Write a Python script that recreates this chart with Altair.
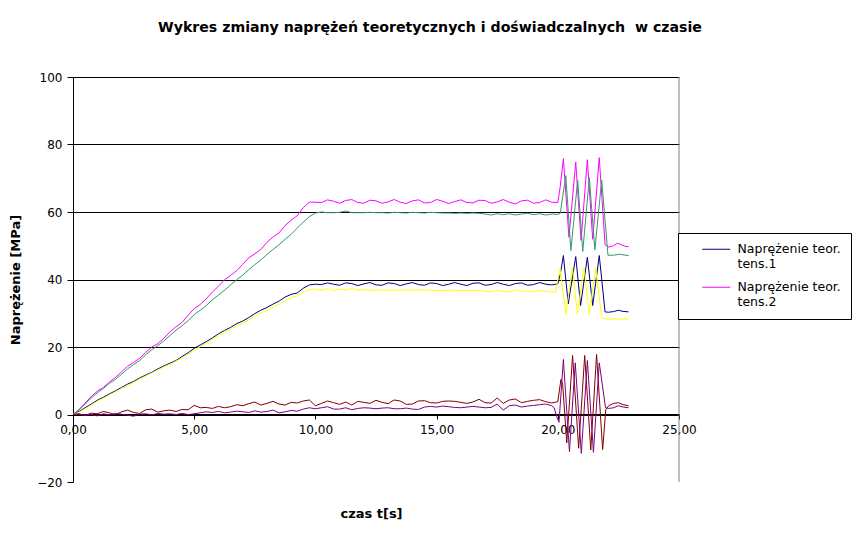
import altair as alt
import pandas as pd

# ---------------- data ----------------
T_BASE = [round(0.25 * i, 2) for i in range(80)]  # 0.00 ... 19.75 s

S_T1 = "Naprężenie teor. tens.1"   # navy
S_T2 = "Naprężenie teor. tens.2"   # magenta
S_D1 = "Naprężenie dośw. tens.1"   # yellow
S_D2 = "Naprężenie dośw. tens.2"   # green
S_D3 = "Naprężenie dośw. tens.3"   # dark red
S_D4 = "Naprężenie dośw. tens.4"   # purple

MAGENTA_BASE = [
    0, 1.5, 3.4, 5.3, 6.9, 8.0, 9.6, 11.0,
    12.6, 14.3, 15.4, 16.7, 18.4, 20.0, 21.0, 22.6,
    24.5, 26.0, 27.3, 29.4, 31.4, 32.6, 34.3, 36.3,
    38.0, 39.9, 41.2, 42.6, 44.5, 46.4, 47.6, 48.9,
    51.0, 52.6, 53.8, 56.0, 57.6, 58.9, 61.3, 62.9,
    62.9, 62.8, 63.6, 63.2, 62.6, 63.4, 63.7, 62.8,
    62.6, 63.5, 63.3, 62.6, 63.0, 63.7, 62.9, 62.5,
    63.3, 63.6, 62.7, 62.8, 63.7, 63.2, 62.5, 63.1,
    63.6, 62.8, 62.7, 63.5, 63.4, 62.6, 63.0, 63.7,
    62.9, 62.4, 63.3, 63.5, 62.6, 62.8, 63.6, 62.9,
]
MAGENTA_OSC_T = [20.0, 20.1, 20.23, 20.46, 20.74, 20.96, 21.22, 21.44, 21.71, 21.95,
                 22.1, 22.3, 22.45, 22.6, 22.75, 22.92]
MAGENTA_OSC_V = [62.8, 67.5, 75.8, 52.5, 74.8, 51.6, 75.5, 51.9, 76.1, 50.3,
                 49.6, 50.0, 50.7, 50.4, 49.9, 49.7]

GREEN_BASE = [
    0, 1.3, 3.1, 4.9, 6.4, 7.7, 9.2, 10.4,
    11.9, 13.5, 14.8, 16.0, 17.7, 19.2, 20.4, 21.8,
    23.4, 25.0, 26.3, 27.8, 29.6, 30.9, 32.3, 34.0,
    35.4, 36.8, 38.4, 39.9, 41.3, 42.9, 44.4, 45.8,
    47.4, 48.9, 50.3, 51.9, 53.4, 55.2, 57.0, 58.6,
    59.7, 60.0, 59.8, 59.8, 59.9, 60.3, 59.8, 59.8,
    59.8, 59.9, 59.8, 59.8, 59.7, 59.9, 59.8, 59.7,
    59.9, 59.8, 59.7, 59.9, 59.8, 59.7, 59.7, 59.6,
    59.7, 59.6, 59.7, 59.6, 59.4, 59.1, 59.5, 59.2,
    59.5, 59.1, 59.4, 59.6, 59.2, 59.5, 59.1, 59.4,
]
GREEN_OSC_T = [20.0, 20.1, 20.33, 20.54, 20.82, 21.03, 21.30, 21.53, 21.81, 22.07,
               22.3, 22.55, 22.7, 22.92]
GREEN_OSC_V = [59.3, 59.6, 70.8, 48.6, 69.5, 48.3, 70.2, 48.8, 69.5, 47.2,
               47.2, 47.5, 47.3, 47.1]

BLUE_BASE = [
    0, 0.9, 2.0, 3.1, 4.2, 5.1, 6.1, 7.0,
    8.0, 9.0, 9.8, 10.8, 11.7, 12.5, 13.5, 14.4,
    15.2, 16.0, 17.2, 18.3, 19.6, 20.6, 21.6, 22.7,
    23.9, 24.9, 25.8, 26.9, 27.7, 28.7, 29.9, 30.9,
    31.7, 32.7, 33.6, 34.8, 35.6, 36.0, 37.4, 38.4,
    38.6, 38.5, 39.0, 38.6, 38.3, 39.0, 38.8, 38.2,
    38.7, 39.1, 38.4, 38.3, 39.0, 38.8, 38.2, 38.7,
    39.1, 38.5, 38.3, 39.0, 38.8, 38.2, 38.6, 39.1,
    38.6, 38.2, 38.9, 39.0, 38.3, 38.5, 39.1, 38.6,
    38.2, 38.8, 39.0, 38.3, 38.5, 39.1, 38.6, 38.4,
]
BLUE_OSC_T = [20.0, 20.1, 20.23, 20.43, 20.74, 20.94, 21.22, 21.44, 21.71, 21.95,
              22.1, 22.3, 22.5, 22.65, 22.92]
BLUE_OSC_V = [38.7, 41.5, 47.1, 32.8, 46.8, 32.3, 46.6, 32.3, 47.1, 30.4,
              30.3, 30.5, 30.9, 30.6, 30.4]

YELLOW_BASE = [
    0, 0.7, 1.7, 2.8, 3.9, 4.8, 5.8, 6.7,
    7.7, 8.6, 9.5, 10.5, 11.4, 12.3, 13.2, 14.1,
    14.9, 15.8, 16.8, 17.9, 19.2, 20.1, 21.1, 22.2,
    23.3, 24.2, 25.2, 26.3, 27.1, 28.0, 29.1, 30.1,
    30.9, 31.8, 32.7, 33.8, 34.6, 35.1, 36.2, 37.0,
    37.2, 36.8, 37.3, 36.7, 37.2, 36.9, 37.3, 36.8,
    37.0, 36.8, 36.8, 36.9, 36.8, 36.8, 36.9, 36.8,
    36.8, 36.9, 36.8, 36.8, 36.8, 36.7, 36.8, 36.8,
    36.7, 36.8, 36.7, 36.8, 36.6, 36.3, 36.8, 36.5,
    36.3, 37.0, 36.4, 36.6, 36.3, 36.8, 36.5, 36.3,
]
YELLOW_OSC_T = [19.9, 20.09, 20.33, 20.6, 20.81, 21.08, 21.3, 21.56, 21.81, 21.95,
                22.2, 22.5, 22.92]
YELLOW_OSC_V = [36.2, 43.2, 29.8, 43.6, 29.8, 43.6, 29.8, 43.5, 28.8, 28.3,
                28.3, 28.3, 28.3]

DARKRED_BASE = [
    0, 0.2, -0.3, 0.4, 0.2, 0.9, 0.5, -0.1,
    0.8, 1.3, 0.6, 0.3, 1.4, 1.6, 0.7, 1.1,
    1.3, 0.9, 1.5, 1.4, 2.7, 2.0, 2.1, 1.8,
    2.4, 2.0, 2.3, 2.9, 2.6, 3.2, 3.7, 2.8,
    3.3, 3.9, 3.1, 2.8, 3.6, 3.4, 4.0, 4.3,
    2.6, 3.3, 4.0, 3.5, 3.0, 3.7, 2.8, 3.9,
    3.6, 3.3, 4.2, 3.6, 3.2, 4.3, 4.0, 3.0,
    3.1, 4.0, 4.1, 3.5, 3.4, 3.9, 4.0, 3.9,
    3.6, 3.3, 3.7, 4.5, 3.5, 3.4, 4.9, 3.3,
    4.3, 4.6, 3.5, 3.9, 4.2, 4.4, 3.8, 3.4,
]
DARKRED_OSC_T = [20.0, 20.13, 20.2, 20.37, 20.61, 20.86, 21.11, 21.36, 21.6, 21.85,
                 21.98, 22.1, 22.3, 22.5, 22.7, 22.92]
DARKRED_OSC_V = [3.8, 10.4, 9.0, -8.4, 17.5, -10.0, 17.5, -10.5, 17.8, -10.4,
                 1.5, 2.6, 3.3, 3.5, 2.9, 2.6]

PURPLE_BASE = [
    0, 0.1, -0.2, 0.0, -0.4, 0.2, -0.1, 0.3,
    0.1, -0.2, -0.5, 0.1, 0.2, -0.1, 0.3, 0.1,
    0.2, 0.0, 0.3, 0.0, 0.2, 0.5, 0.8, 0.6,
    0.9, 0.5, 0.7, 1.0, 0.8, 0.6, 1.1, 0.7,
    0.9, 1.3, 0.5, 0.8, 1.2, 1.0, 1.6, 2.0,
    1.7, 2.0, 2.3, 1.6, 1.6, 2.0, 1.4, 1.8,
    2.0, 1.9, 1.7, 1.9, 2.0, 1.7, 1.7, 1.9,
    1.6, 1.5, 2.2, 2.4, 2.2, 2.5, 2.3, 2.1,
    2.0, 2.2, 2.4, 2.2, 2.0, 2.1, 3.1, 1.3,
    2.6, 2.8, 2.2, 2.5, 2.7, 2.9, 3.1, 2.6,
]
PURPLE_OSC_T = [19.85, 19.95, 20.05, 20.23, 20.48, 20.72, 20.97, 21.22, 21.47, 21.71,
                21.97, 22.1, 22.3, 22.5, 22.7, 22.92]
PURPLE_OSC_V = [2.0, -0.5, -2.3, 16.3, -11.0, 15.3, -11.5, 16.0, -11.2, 15.3,
                2.0, 1.8, 2.0, 2.6, 2.2, 2.0]

X_TICKS = [0, 5, 10, 15, 20, 25]
Y_TICKS = [-20, 0, 20, 40, 60, 80, 100]

TITLE = "Wykres zmiany naprężeń teoretycznych i doświadczalnych \u00a0w czasie"
X_TITLE = "czas t[s]"
Y_TITLE = "Naprężenie [MPa]"


def series(name, base, osc_t, osc_v):
    assert len(base) == len(T_BASE) and len(osc_t) == len(osc_v)
    rows = [{"t": t, "v": v, "s": name} for t, v in zip(T_BASE, base)]
    rows += [{"t": t, "v": v, "s": name} for t, v in zip(osc_t, osc_v)]
    return rows


df_legend = pd.DataFrame(
    series(S_T1, BLUE_BASE, BLUE_OSC_T, BLUE_OSC_V)
    + series(S_T2, MAGENTA_BASE, MAGENTA_OSC_T, MAGENTA_OSC_V)
)
df_other = pd.DataFrame(
    series(S_D1, YELLOW_BASE, YELLOW_OSC_T, YELLOW_OSC_V)
    + series(S_D2, GREEN_BASE, GREEN_OSC_T, GREEN_OSC_V)
    + series(S_D3, DARKRED_BASE, DARKRED_OSC_T, DARKRED_OSC_V)
    + series(S_D4, PURPLE_BASE, PURPLE_OSC_T, PURPLE_OSC_V)
)
df_border = pd.DataFrame({"t": [25.0]})

FONT = "DejaVu Sans"

x_enc = alt.X(
    "t:Q",
    scale=alt.Scale(domain=[0, 25], nice=False, zero=False),
    axis=alt.Axis(
        values=X_TICKS,
        labelExpr="replace(format(datum.value, '.2f'), '.', ',')",
        offset=-68,
        tickSize=5,
        labelPadding=5,
        labelFlush=False,
        labelOverlap=False,
        grid=False,
        title=X_TITLE,
        titleX=298,
        titleY=99,
        titleAlign="center",
        titleBaseline="middle",
    ),
)
y_enc = alt.Y(
    "v:Q",
    scale=alt.Scale(domain=[-20, 100], nice=False, zero=False),
    axis=alt.Axis(
        values=Y_TICKS,
        tickSize=6,
        labelPadding=5,
        labelFlush=False,
        labelOverlap=False,
        grid=True,
        gridColor="black",
        gridWidth=1,
        gridOpacity={"condition": {"test": "datum.value < -10", "value": 0}, "value": 1},
        title=Y_TITLE,
        titleX=-58,
        titleBaseline="middle",
    ),
)

legend_lines = alt.Chart(df_legend).mark_line(strokeWidth=1).encode(
    x=x_enc,
    y=y_enc,
    color=alt.Color(
        "s:N",
        scale=alt.Scale(domain=[S_T1, S_T2], range=["#000080", "#FF00FF"]),
        legend=alt.Legend(
            orient="none",
            legendX=605,
            legendY=156,
            title=None,
            strokeColor="black",
            fillColor="white",
            padding=10,
            rowPadding=10,
            symbolType="M-7,0L7,0",
            symbolSize=16,
            symbolStrokeWidth=1,
            symbolOffset=22,
            labelOffset=15,
            labelFont=FONT,
            labelFontSize=12.5,
            labelColor="black",
            labelBaseline="middle",
            labelLimit=300,
            labelExpr="[slice(datum.label, 0, 16) + '\u2002\u2002\u00a0', slice(datum.label, 17)]",
        ),
    ),
)

other_lines = alt.Chart(df_other).mark_line(strokeWidth=1).encode(
    x=x_enc,
    y=y_enc,
    color=alt.Color(
        "s:N",
        scale=alt.Scale(domain=[S_D1, S_D2, S_D3, S_D4],
                        range=["#FFFF00", "#339966", "#800000", "#800080"]),
        legend=None,
    ),
)

border = alt.Chart(df_border).mark_rule(color="#808080", strokeWidth=1).encode(x=x_enc)

chart = (
    alt.layer(legend_lines, other_lines, border)
    .resolve_scale(color="independent")
    .properties(
        width=606,
        height=405,
        background="white",
        padding={"left": 65, "top": 69, "right": 180, "bottom": 50},
        autosize=alt.AutoSizeParams(type="none"),
        title=alt.TitleParams(
            text=TITLE,
            font=FONT,
            fontSize=14.15,
            fontWeight="bold",
            color="black",
            anchor="middle",
            frame="group",
            dx=54,
            offset=36,
        ),
    )
    .configure_view(stroke=None)
    .configure_axis(
        labelFont=FONT,
        labelFontSize=12,
        labelColor="black",
        titleFont=FONT,
        titleFontSize=13,
        titleFontWeight="bold",
        titleColor="black",
        domainColor="black",
        tickColor="black",
        domainWidth=1,
        tickWidth=1,
    )
)

chart.save("out.html", embed_options={"renderer": "svg", "actions": False})
